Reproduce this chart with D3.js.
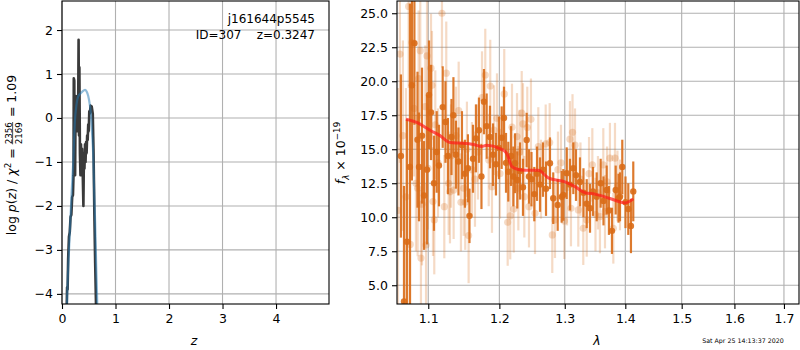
<!DOCTYPE html>
<html>
<head>
<meta charset="utf-8">
<script src="https://cdn.jsdelivr.net/npm/d3@7"></script>
<style>
  body { margin: 0; background: #fff; }
  text { font-family: "DejaVu Sans", sans-serif; }
</style>
</head>
<body>
<div class="chart"></div>
<script>
var svgWidth = 800;
var svgHeight = 350;

// ---- left panel data: log p(z) ----
var zDark = [0.085,0.095,0.105,0.115,0.13,0.145,0.16,0.175,0.19,0.205,0.215,0.22,0.23,0.235,0.245,0.255,0.262,0.27,0.28,0.29,0.30,0.31,0.318,0.325,0.335,0.345,0.355,0.365,0.375,0.385,0.40,0.41,0.42,0.43,0.44,0.45,0.46,0.47,0.48,0.49,0.50,0.51,0.52,0.535,0.555,0.575,0.59,0.605,0.62,0.635,0.65];
var lnpDark = [-4.5,-3.85,-3.9,-3.2,-2.7,-2.6,-2.25,-2.2,-1.8,-1.75,-1.3,0.9,0.85,-1.3,-1.3,0.5,-0.1,0.45,-0.3,0.5,-0.2,1.78,-0.4,1.15,-0.8,-1.3,-0.6,-1.3,-0.7,-1.1,-2.0,-0.8,-1.15,-0.6,-1.0,-0.55,-0.8,-0.4,-0.5,-0.15,-0.3,0.15,0.1,0.28,0.26,0.1,-0.8,-2.2,-3.3,-4.2,-5.2];
var zFit = [0.085,0.10,0.12,0.15,0.18,0.21,0.24,0.27,0.30,0.34,0.38,0.43,0.46,0.49,0.52,0.54,0.56,0.585,0.60,0.62,0.64,0.66,0.67];
var lnpFit = [-4.6,-3.9,-3.3,-2.5,-1.7,-1.0,-0.1,0.3,0.48,0.55,0.6,0.64,0.6,0.5,0.3,0.1,-0.3,-0.9,-1.6,-2.4,-3.4,-4.3,-5.0];
var zTicks = [0, 1, 2, 3, 4];
var lnpTicks = [-4, -3, -2, -1, 0, 1, 2];

// ---- right panel data: spectrum ----
var lamDark = [1.0638,1.0678,1.0717,1.0756,1.0782,1.0815,1.0856,1.0876,1.0916,1.0943,1.0983,1.1010,1.1037,1.1077,1.1114,1.1145,1.1196,1.1234,1.1268,1.1317,1.1344,1.1379,1.1414,1.1463,1.1505,1.1547,1.1569,1.1619,1.1661,1.1704,1.1740,1.1776,1.1815,1.1863,1.1907,1.1950,1.1994,1.2034,1.2068,1.2098,1.2132,1.2172,1.2207,1.2232,1.2266,1.2307,1.2352,1.2408,1.2443,1.2481,1.2524,1.2566,1.2612,1.2658,1.2705,1.2767,1.2818,1.2888,1.2951,1.2977,1.3031,1.3083,1.3137,1.3180,1.3244,1.3301,1.3354,1.3408,1.3457,1.3518,1.3584,1.3631,1.3684,1.3722,1.3773,1.3836,1.3884,1.3909,1.3948,1.4003,1.4051,1.4097,1.4137];
var fluxDark = [14.5,3.8,8.2,13.7,19.7,22.8,15.7,13.7,16.0,11.6,13.5,19.0,17.7,12.5,14.8,13.8,18.1,17.0,14.5,15.9,17.5,14.6,14.1,15.3,13.2,13.6,10.1,14.3,15.8,16.4,13.0,18.5,16.7,15.9,14.6,13.9,15.1,15.85,17.3,14.0,13.35,14.5,13.0,13.97,12.74,13.4,12.2,15.68,13.0,12.8,11.7,13.2,12.4,13.5,12.1,13.97,11.4,10.9,11.5,11.64,13.24,12.4,13.6,13.1,12.6,11.8,11.0,10.66,11.9,11.5,12.5,11.2,12.0,10.5,9.0,12.0,11.4,11.5,13.7,11.1,10.6,9.36,11.9];
var errDark = [6.0,8.5,9.0,12.0,7.0,6.0,5.0,4.0,5.0,4.0,5.5,4.0,3.5,3.5,3.0,3.0,3.0,3.0,2.8,2.8,2.8,2.5,2.5,2.5,2.5,2.5,2.0,2.5,2.5,2.4,2.4,2.4,2.4,2.3,2.3,2.3,2.3,2.3,2.3,2.2,2.2,2.2,2.2,2.2,2.1,2.1,2.1,2.0,2.0,2.0,2.0,2.0,2.0,2.0,2.0,1.9,1.9,1.9,1.9,1.9,1.9,1.9,1.9,1.9,1.8,1.8,1.8,1.8,1.8,1.8,1.8,1.8,1.8,1.8,1.7,1.8,1.8,1.8,2.0,1.9,1.9,2.0,2.2];

var lamLight = [1.0600,1.0625,1.0664,1.0704,1.0739,1.0760,1.0782,1.0809,1.0835,1.0858,1.0871,1.0893,1.0902,1.0916,1.0960,1.0970,1.0983,1.0996,1.1037,1.1050,1.1064,1.1081,1.1095,1.1132,1.1186,1.1218,1.1245,1.1278,1.1296,1.1310,1.1347,1.1379,1.1417,1.1449,1.1487,1.1509,1.1533,1.1557,1.1604,1.1647,1.1690,1.1748,1.1795,1.1845,1.1867,1.1892,1.1921,1.1965,1.2009,1.2072,1.2123,1.2161,1.2187,1.2213,1.2262,1.2282,1.2300,1.2333,1.2352,1.2372,1.2417,1.2443,1.2473,1.2535,1.2586,1.2627,1.2700,1.2762,1.2803,1.2845,1.2892,1.2940,1.2993,1.3036,1.3083,1.3099,1.3124,1.3164,1.3217,1.3252,1.3298,1.3354,1.3392,1.3446,1.3498,1.3539,1.3572,1.3628,1.3656,1.3690,1.3739,1.3796,1.3824,1.3866,1.3909];
var fluxLight = [10.5,22.0,16.0,11.5,25.5,8.0,22.84,18.0,12.5,12.13,20.2,22.25,7.0,10.96,18.13,7.96,21.86,13.6,20.96,19.7,11.15,9.8,16.8,14.0,25.0,10.78,20.59,12.5,11.88,14.5,12.0,16.0,17.84,11.1,12.13,11.1,15.0,8.65,13.5,12.8,14.8,18.8,20.46,14.21,19.65,12.25,16.4,17.28,13.2,19.07,9.63,10.1,16.62,10.6,15.93,12.13,14.8,17.65,16.86,11.51,16.6,10.78,17.2,10.29,15.19,12.8,15.39,15.49,8.7,9.8,13.5,14.0,9.73,12.2,15.74,10.66,16.25,15.3,10.54,12.8,9.19,9.8,13.2,13.85,10.2,11.8,10.05,13.85,10.41,12.6,14.34,9.19,14.34,12.3,11.64];
var errLight = [9,8,7,8,6,6,5,5,5,5,5,5,5,4.5,4.5,4.5,4.5,4.5,4,4,4,4,4,4,4,3.8,3.8,3.8,3.8,3.8,3.6,3.6,3.6,3.6,3.5,3.5,3.5,3.5,3.5,3.5,3.5,3.4,3.4,3.4,3.4,3.4,3.3,3.3,3.3,3.3,3.2,3.2,3.2,3.2,3.2,3.1,3.1,3.1,3.0,3.0,3.0,3.0,3.0,3.0,2.9,2.9,2.9,2.9,2.8,2.8,2.8,2.8,2.8,2.8,2.8,2.8,2.8,2.7,2.7,2.7,2.7,2.7,2.7,2.7,2.7,2.7,2.7,2.7,2.7,2.6,2.6,2.6,2.6,2.6,2.6];

var lamModel = [1.0704,1.0853,1.1023,1.1159,1.1296,1.1435,1.1623,1.1743,1.1815,1.2009,1.2108,1.2182,1.2257,1.2382,1.2585,1.2740,1.3004,1.3164,1.3326,1.3490,1.3656,1.3824,1.3994,1.4137];
var fluxModel = [17.2,16.95,16.4,16.0,15.5,15.45,15.35,15.2,15.3,15.05,14.7,13.75,13.55,13.45,13.45,12.9,12.6,12.25,11.8,11.7,11.5,11.25,11.05,11.35];

var lamTicks = [1.1, 1.2, 1.3, 1.4, 1.5, 1.6, 1.7];
var fluxTicks = [5, 7.5, 10, 12.5, 15, 17.5, 20, 22.5, 25];

var orange = "#d96b17";
var gridColor = "#b0b0b0";
var fs = 12.5;

var svg = d3.select(".chart")
  .append("svg")
  .attr("width", svgWidth)
  .attr("height", svgHeight);

var defs = svg.append("defs");

function makePanel(id, x0, x1, y0, y1) {
  defs.append("clipPath").attr("id", id)
    .append("rect").attr("x", x0).attr("y", y0).attr("width", x1 - x0).attr("height", y1 - y0);
}

function drawAxes(x, y, xTicks, yTicks, xFmt, yFmt) {
  var r = x.range(), d = y.range();
  var g = svg.append("g");
  // grid
  g.selectAll(".gx").data(xTicks).enter().append("line")
    .attr("x1", x).attr("x2", x).attr("y1", d[1]).attr("y2", d[0])
    .attr("stroke", gridColor).attr("stroke-width", 1.1);
  g.selectAll(".gy").data(yTicks).enter().append("line")
    .attr("y1", y).attr("y2", y).attr("x1", r[0]).attr("x2", r[1])
    .attr("stroke", gridColor).attr("stroke-width", 1.1);
  return g;
}

function drawFrame(x, y, xTicks, yTicks, xFmt, yFmt) {
  var r = x.range(), d = y.range();
  var ax = svg.append("g").attr("transform", "translate(0," + d[0] + ")")
    .call(d3.axisBottom(x).tickValues(xTicks).tickFormat(xFmt).tickSize(5).tickPadding(5).tickSizeOuter(0));
  var ay = svg.append("g").attr("transform", "translate(" + r[0] + ",0)")
    .call(d3.axisLeft(y).tickValues(yTicks).tickFormat(yFmt).tickSize(5).tickPadding(4).tickSizeOuter(0));
  [ax, ay].forEach(function(a) {
    a.select(".domain").remove();
    a.selectAll("text").attr("font-size", fs).attr("font-family", "DejaVu Sans").attr("fill", "#000");
    a.selectAll(".tick line").attr("stroke", "#000").attr("stroke-width", 1.1);
  });
  svg.append("rect")
    .attr("x", r[0]).attr("y", d[1]).attr("width", r[1] - r[0]).attr("height", d[0] - d[1])
    .attr("fill", "none").attr("stroke", "#000").attr("stroke-width", 1.1);
}

var minusFmt = function(d) { return d < 0 ? "\u2212" + Math.abs(d) : "" + d; };

// ================= left panel =================
var xz = d3.scaleLinear().domain([0, 4.99]).range([62, 329]);
var ylp = d3.scaleLinear().domain([-4.23, 2.66]).range([304, 1]);
makePanel("clipL", 62, 329, 1, 304);
drawAxes(xz, ylp, zTicks, lnpTicks);

var plotL = svg.append("g").attr("clip-path", "url(#clipL)");
var lineL = d3.line().x(function(d) { return xz(d[0]); }).y(function(d) { return ylp(d[1]); });
plotL.append("path")
  .datum(d3.zip(zDark, lnpDark))
  .attr("d", lineL)
  .attr("fill", "none").attr("stroke", "#3a3a3a").attr("stroke-width", 2.6)
  .attr("stroke-linejoin", "round");
plotL.append("path")
  .datum(d3.zip(zFit, lnpFit))
  .attr("d", d3.line().curve(d3.curveMonotoneX).x(function(d) { return xz(d[0]); }).y(function(d) { return ylp(d[1]); }))
  .attr("fill", "none").attr("stroke", "#1f77b4").attr("stroke-opacity", 0.5).attr("stroke-width", 2.2);

drawFrame(xz, ylp, zTicks, lnpTicks, minusFmt, minusFmt);

svg.append("text").attr("x", 315).attr("y", 23).attr("text-anchor", "end")
  .attr("font-size", 12).text("j161644p5545");
svg.append("text").attr("x", 315).attr("y", 39).attr("text-anchor", "end")
  .attr("font-size", 12).style("white-space", "pre").text("ID=307    z=0.3247");

svg.append("text").attr("x", 194).attr("y", 345).attr("text-anchor", "middle")
  .attr("font-size", fs).attr("font-style", "italic").text("z");

// rotated math label built from pieces
function mathLabel(cx, cy, pieces, size) {
  var g = svg.append("g").attr("transform", "translate(" + cx + "," + cy + ") rotate(-90)");
  var inner = g.append("g");
  var cursor = 0;
  pieces.forEach(function(p) {
    if (p.frac) {
      var s = size * 0.7;
      var tn = inner.append("text").attr("x", cursor).attr("y", -size * 0.38).attr("font-size", s).text(p.frac[0]);
      var td = inner.append("text").attr("x", cursor).attr("y", size * 0.42).attr("font-size", s).text(p.frac[1]);
      var w = Math.max(tn.node().getComputedTextLength(), td.node().getComputedTextLength());
      inner.append("line").attr("x1", cursor).attr("x2", cursor + w)
        .attr("y1", -size * 0.3).attr("y2", -size * 0.3).attr("stroke", "#000").attr("stroke-width", 0.7);
      cursor += w + 1;
    } else {
      var t = inner.append("text").attr("x", cursor).attr("y", p.dy || 0)
        .attr("font-size", p.size || size)
        .attr("font-style", p.italic ? "italic" : "normal")
        .style("white-space", "pre")
        .text(p.t);
      cursor += t.node().getComputedTextLength();
    }
  });
  inner.attr("transform", "translate(" + (-cursor / 2) + "," + (size * 0.35) + ")");
}

mathLabel(12, 155, [
  { t: "log " },
  { t: "p", italic: true },
  { t: "(" },
  { t: "z", italic: true },
  { t: ") / " },
  { t: "\u03c7", italic: true },
  { t: "2", size: fs * 0.7, dy: -fs * 0.45 },
  { t: " = " },
  { frac: ["2356", "2169"] },
  { t: " = 1.09" }
], fs);

// ================= right panel =================
var xl = d3.scaleLog().domain([1.0587, 1.7316]).range([397, 799]);
var yf = d3.scaleLinear().domain([3.62, 25.9]).range([304, 1]);
makePanel("clipR", 397, 799, 1, 304);
drawAxes(xl, yf, lamTicks, fluxTicks);

var plotR = svg.append("g").attr("clip-path", "url(#clipR)");

var light = d3.range(lamLight.length).map(function(i) { return { l: lamLight[i], f: fluxLight[i], e: errLight[i] }; });
var dark = d3.range(lamDark.length).map(function(i) { return { l: lamDark[i], f: fluxDark[i], e: errDark[i] }; });

var gLight = plotR.append("g");
gLight.selectAll("line").data(light).enter().append("line")
  .attr("x1", function(d) { return xl(d.l); }).attr("x2", function(d) { return xl(d.l); })
  .attr("y1", function(d) { return yf(d.f - d.e); }).attr("y2", function(d) { return yf(d.f + d.e); })
  .attr("stroke", orange).attr("stroke-opacity", 0.25).attr("stroke-width", 2.2);
gLight.selectAll("circle").data(light).enter().append("circle")
  .attr("cx", function(d) { return xl(d.l); }).attr("cy", function(d) { return yf(d.f); })
  .attr("r", 3.6).attr("fill", orange).attr("fill-opacity", 0.25);

var gDark = plotR.append("g");
gDark.selectAll("line").data(dark).enter().append("line")
  .attr("x1", function(d) { return xl(d.l); }).attr("x2", function(d) { return xl(d.l); })
  .attr("y1", function(d) { return yf(d.f - d.e); }).attr("y2", function(d) { return yf(d.f + d.e); })
  .attr("stroke", orange).attr("stroke-opacity", 0.9).attr("stroke-width", 2.2);
gDark.selectAll("circle").data(dark).enter().append("circle")
  .attr("cx", function(d) { return xl(d.l); }).attr("cy", function(d) { return yf(d.f); })
  .attr("r", 3.2).attr("fill", orange).attr("fill-opacity", 0.9);

plotR.append("path")
  .datum(d3.zip(lamModel, fluxModel))
  .attr("d", d3.line().curve(d3.curveMonotoneX).x(function(d) { return xl(d[0]); }).y(function(d) { return yf(d[1]); }))
  .attr("fill", "none").attr("stroke", "#ff1a1a").attr("stroke-opacity", 0.7).attr("stroke-width", 3);

drawFrame(xl, yf, lamTicks, fluxTicks, d3.format(".1f"), d3.format(".1f"));

svg.append("text").attr("x", 597).attr("y", 345).attr("text-anchor", "middle")
  .attr("font-size", fs).attr("font-style", "italic").text("\u03bb");

mathLabel(341, 153, [
  { t: "f", italic: true },
  { t: "\u03bb", italic: true, size: fs * 0.7, dy: fs * 0.25 },
  { t: " \u00d7 10" },
  { t: "\u221219", size: fs * 0.7, dy: -fs * 0.45 }
], fs);

svg.append("text").attr("x", 743).attr("y", 343).attr("text-anchor", "middle")
  .attr("font-size", 6.3).text("Sat Apr 25 14:13:37 2020");
</script>
</body>
</html>
